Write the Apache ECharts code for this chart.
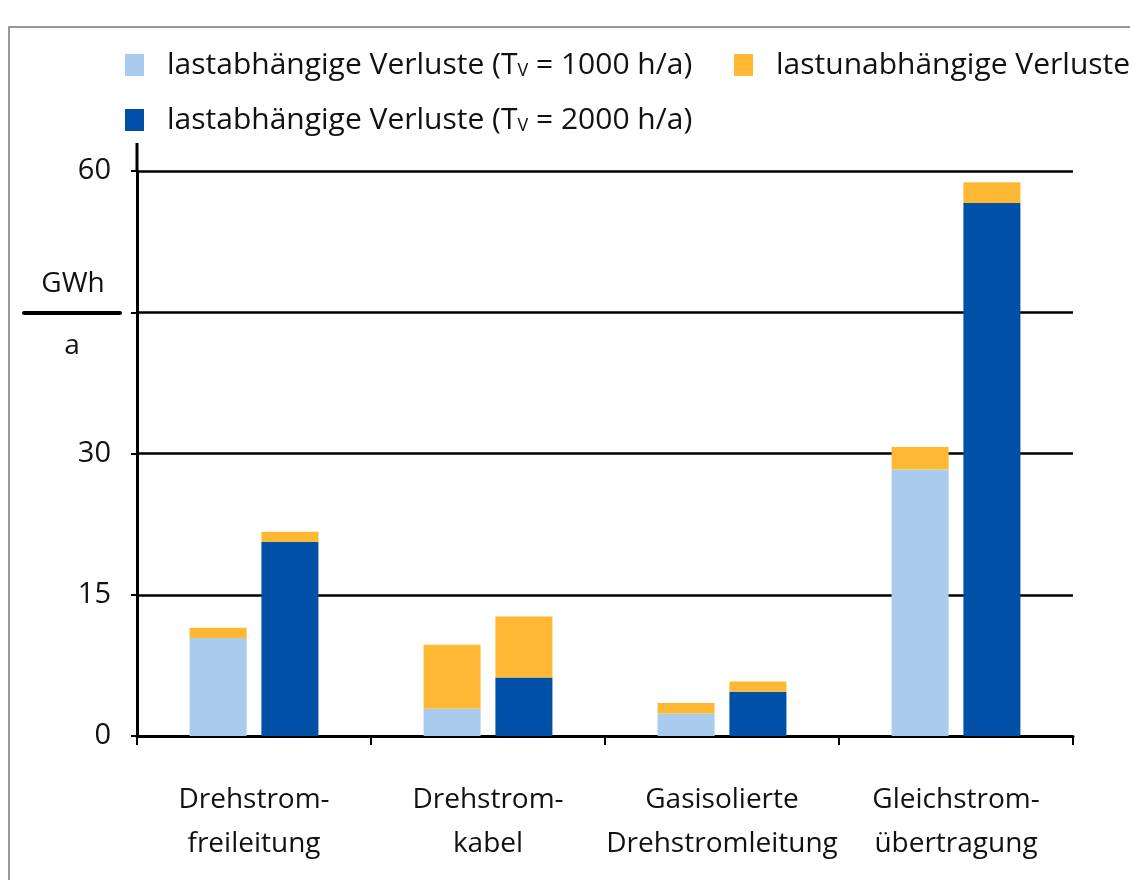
<!DOCTYPE html>
<html>
<head>
<meta charset="utf-8">
<script src="https://cdn.jsdelivr.net/npm/echarts@6/dist/echarts.min.js"></script>
<style>
  html, body { margin: 0; padding: 0; background: #fff; }
  #chart { width: 1130px; height: 880px; }
</style>
</head>
<body>
<div id="chart"></div>
<script>
// Kategorien (Übertragungstechnik)
const categories = [
  'Drehstrom-\nfreileitung',
  'Drehstrom-\nkabel',
  'Gasisolierte\nDrehstromleitung',
  'Gleichstrom-\nübertragung'
]
// GWh/a
const lastabh1000 = [10.4, 2.9, 2.4, 28.3]
const lastunabh1000 = [1.1, 6.8, 1.1, 2.4]
const lastabh2000 = [20.6, 6.2, 4.7, 56.6]
const lastunabh2000 = [1.1, 6.5, 1.1, 2.2]

const NAME_1000 = 'lastabhängige Verluste (T_V = 1000 h/a)'
const NAME_2000 = 'lastabhängige Verluste (T_V = 2000 h/a)'
const NAME_UNABH = 'lastunabhängige Verluste'

const FONT = 'Open Sans'
const TEXT = '#111'

const legendText = {
  fontFamily: FONT,
  fontSize: 30,
  color: TEXT,
  rich: {
    g: { width: 18 },
    t: { fontFamily: FONT, fontSize: 30, color: TEXT },
    sub: { fontFamily: FONT, fontSize: 18, color: TEXT, padding: [12, 0, 0, 0] }
  }
}
function legendFormatter(name) {
  if (name.indexOf('T_V') < 0) return '{g|}{t|' + name + '}'
  const parts = name.split('T_V')
  return '{g|}{t|' + parts[0] + 'T}{sub|V}{t|' + parts[1] + '}'
}
// eine Legende je Eintrag, damit die Anordnung wie im Original bleibt
function legendItem(name, left, top) {
  return {
    data: [name],
    left: left,
    top: top,
    icon: 'rect',
    itemWidth: 19,
    itemHeight: 22,
    formatter: legendFormatter,
    textStyle: legendText
  }
}

const chart = echarts.init(document.getElementById('chart'), null, { renderer: 'canvas' })

chart.setOption({
  animation: false,
  backgroundColor: '#fff',
  legend: [
    legendItem(NAME_1000, 120, 45),
    legendItem(NAME_UNABH, 729, 45),
    legendItem(NAME_2000, 120, 100)
  ],
  grid: {
    left: 137,
    right: 57,
    top: 171,
    bottom: 144,
    containLabel: false
  },
  xAxis: {
    type: 'category',
    data: categories,
    axisLine: { lineStyle: { color: '#000', width: 3 } },
    axisTick: { show: true, length: 9, lineStyle: { color: '#000', width: 2 } },
    axisLabel: {
      interval: 0,
      fontFamily: FONT,
      fontSize: 28,
      color: TEXT,
      lineHeight: 44,
      margin: 42
    }
  },
  yAxis: {
    type: 'value',
    min: 0,
    max: 60,
    interval: 15,
    axisLine: { show: true, lineStyle: { color: '#000', width: 3 } },
    axisTick: { show: true, length: 6, lineStyle: { color: '#000', width: 2 } },
    splitLine: { lineStyle: { color: '#000', width: 2.5 } },
    axisLabel: {
      fontFamily: FONT,
      fontSize: 29,
      color: TEXT,
      margin: 26,
      formatter: v => (v === 45 ? '' : String(v))
    }
  },
  series: [
    {
      name: NAME_1000,
      type: 'bar',
      stack: 't1000',
      data: lastabh1000,
      barWidth: 57,
      barGap: '26%',
      itemStyle: { color: '#A9CBEE' }
    },
    {
      name: NAME_UNABH,
      type: 'bar',
      stack: 't1000',
      data: lastunabh1000,
      barWidth: 57,
      itemStyle: { color: '#FFB833' }
    },
    {
      name: NAME_2000,
      type: 'bar',
      stack: 't2000',
      data: lastabh2000,
      barWidth: 57,
      barGap: '26%',
      itemStyle: { color: '#0050A8' }
    },
    {
      name: NAME_UNABH,
      type: 'bar',
      stack: 't2000',
      data: lastunabh2000,
      barWidth: 57,
      itemStyle: { color: '#FFB833' }
    }
  ],
  graphic: [
    // Rahmen
    {
      type: 'rect',
      shape: { x: 9, y: 27, width: 1300, height: 1000 },
      style: { fill: 'none', stroke: '#777', lineWidth: 1.5 },
      silent: true
    },
    // Achse über 60 hinaus verlängert
    {
      type: 'line',
      shape: { x1: 137, y1: 143, x2: 137, y2: 172 },
      style: { stroke: '#000', lineWidth: 3 }
    },
    // Einheit GWh/a
    {
      type: 'text',
      x: 73,
      y: 284,
      style: {
        text: 'GWh',
        fontFamily: FONT,
        fontSize: 28,
        fill: TEXT,
        align: 'center',
        verticalAlign: 'middle'
      }
    },
    {
      type: 'line',
      shape: { x1: 24, y1: 313, x2: 120, y2: 313 },
      style: { stroke: '#000', lineWidth: 4, lineCap: 'round' }
    },
    {
      type: 'text',
      x: 72,
      y: 346,
      style: {
        text: 'a',
        fontFamily: FONT,
        fontSize: 28,
        fill: TEXT,
        align: 'center',
        verticalAlign: 'middle'
      }
    }
  ]
})
</script>
</body>
</html>
